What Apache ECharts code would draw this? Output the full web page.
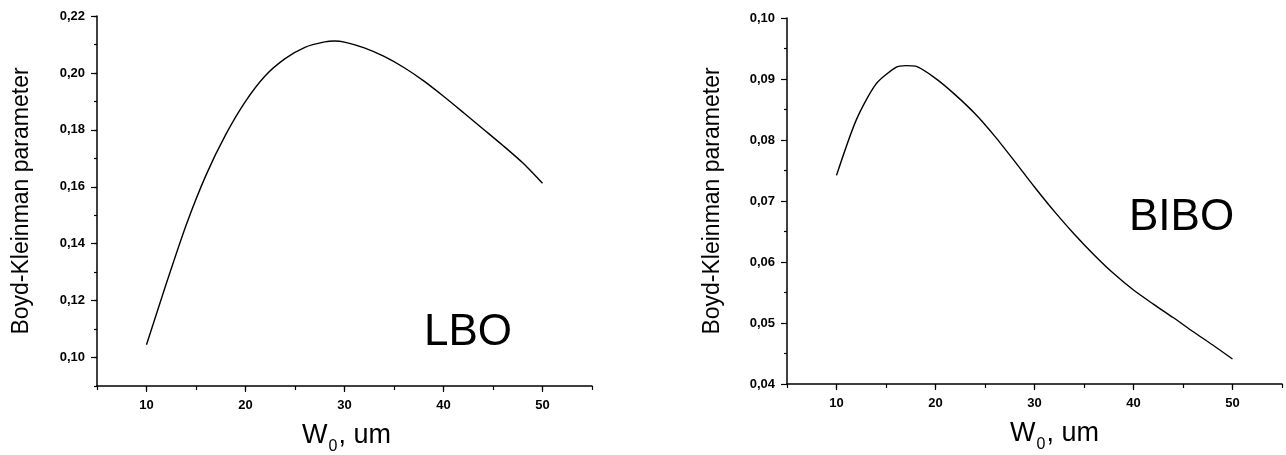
<!DOCTYPE html>
<html>
<head>
<meta charset="utf-8">
<script src="https://cdn.jsdelivr.net/npm/echarts@6/dist/echarts.min.js"></script>
<style>
  html, body { margin: 0; padding: 0; background: #ffffff; }
  #chart { width: 1286px; height: 455px; }
</style>
</head>
<body>
<div id="chart"></div>
<script>
// ---------- data ----------
const lboW0 = [10, 12, 14, 16, 18, 20, 22, 24, 26, 28, 29, 30, 32, 34, 36, 38, 40, 42, 44, 46, 48, 50];
const lboBK = [0.1045, 0.1260, 0.1465, 0.1640, 0.1783, 0.1900, 0.1990, 0.2050, 0.2090, 0.2109, 0.2112, 0.2108, 0.2088, 0.2058, 0.2019, 0.1972, 0.1918, 0.1861, 0.1803, 0.1745, 0.1684, 0.1612];

const biboW0 = [10, 12, 14, 16, 17, 18, 20, 22, 24, 26, 28, 30, 32, 34, 36, 38, 40, 42, 44, 46, 48, 50];
const biboBK = [0.0742, 0.0833, 0.0892, 0.0919, 0.0922, 0.0921, 0.0901, 0.0874, 0.0843, 0.0806, 0.0765, 0.0723, 0.0683, 0.0646, 0.0612, 0.0581, 0.0554, 0.0531, 0.0509, 0.0486, 0.0464, 0.0441];

const xMajorTicks = [10, 20, 30, 40, 50];
const lboYLabels = [0.10, 0.12, 0.14, 0.16, 0.18, 0.20, 0.22];
const biboYLabels = [0.04, 0.05, 0.06, 0.07, 0.08, 0.09, 0.10];

const yTitle = 'Boyd-Kleinman parameter';
const xTitle = '{w|W}{s|0}{w|, um}';
const panelTags = ['LBO', 'BIBO'];

// ---------- styles ----------
const FONT = "'Liberation Sans', Arial, sans-serif";
const BLACK = '#000000';
const tickLabelStyle = { color: BLACK, fontFamily: FONT, fontWeight: 'bold', fontSize: 13 };
const comma = v => v.toFixed(2).replace('.', ',');

function xAxes(gridIndex, padLeft) {
  return [
    {
      type: 'value', gridIndex, position: 'bottom', min: 5, max: 55, interval: 5,
      axisLine: { show: true, lineStyle: { color: BLACK, width: 1.5 } },
      axisTick: { show: true, length: 4, lineStyle: { color: BLACK, width: 1.2 } },
      axisLabel: { show: true, customValues: xMajorTicks, margin: 13, ...tickLabelStyle },
      splitLine: { show: false },
      name: xTitle, nameLocation: 'middle', nameGap: 34,
      nameTextStyle: {
        padding: [0, 0, 0, padLeft],
        rich: {
          w: { fontFamily: FONT, fontSize: 27, color: BLACK, lineHeight: 30 },
          s: { fontFamily: FONT, fontSize: 16, color: BLACK, lineHeight: 30, padding: [22, 1, 0, 1] }
        }
      }
    },
    {
      type: 'value', gridIndex, position: 'bottom', min: 5, max: 55, interval: 5,
      axisLine: { show: false },
      axisTick: { show: true, customValues: xMajorTicks, length: 6, lineStyle: { color: BLACK, width: 1.2 } },
      axisLabel: { show: false },
      splitLine: { show: false }
    }
  ];
}

const option = {
  backgroundColor: '#ffffff',
  animation: false,
  grid: [
    { left: 97, right: 694, top: 16, bottom: 69, containLabel: false, outerBoundsMode: 'none' },
    { left: 787, right: 4, top: 18, bottom: 71, containLabel: false, outerBoundsMode: 'none' }
  ],
  xAxis: [...xAxes(0, 4), ...xAxes(1, 40)],
  yAxis: [
    {
      type: 'value', gridIndex: 0, position: 'left', min: 0.09, max: 0.22, interval: 0.01,
      axisLine: { show: true, lineStyle: { color: BLACK, width: 1.5 } },
      axisTick: { show: true, length: 3, lineStyle: { color: BLACK, width: 1.2 } },
      axisLabel: { show: true, customValues: lboYLabels, margin: 12, formatter: comma, ...tickLabelStyle },
      splitLine: { show: false },
      name: yTitle, nameLocation: 'middle', nameGap: 64, nameRotate: 90,
      nameTextStyle: { fontFamily: FONT, fontSize: 23, color: BLACK }
    },
    {
      type: 'value', gridIndex: 0, position: 'left', min: 0.09, max: 0.22, interval: 0.01,
      axisLine: { show: false },
      axisTick: { show: true, customValues: lboYLabels, length: 6, lineStyle: { color: BLACK, width: 1.2 } },
      axisLabel: { show: false },
      splitLine: { show: false }
    },
    {
      type: 'value', gridIndex: 1, position: 'left', min: 0.04, max: 0.10, interval: 0.01,
      axisLine: { show: true, lineStyle: { color: BLACK, width: 1.5 } },
      axisTick: { show: true, length: 6, lineStyle: { color: BLACK, width: 1.2 } },
      minorTick: { show: true, splitNumber: 2, length: 3, lineStyle: { color: BLACK, width: 1.2 } },
      axisLabel: { show: true, customValues: biboYLabels, margin: 12, formatter: comma, ...tickLabelStyle },
      splitLine: { show: false },
      minorSplitLine: { show: false },
      name: yTitle, nameLocation: 'middle', nameGap: 63, nameRotate: 90,
      nameTextStyle: { fontFamily: FONT, fontSize: 23, color: BLACK }
    }
  ],
  series: [
    {
      type: 'line', xAxisIndex: 0, yAxisIndex: 0, smooth: 0.25, showSymbol: false,
      lineStyle: { color: BLACK, width: 1.4 },
      data: lboW0.map((x, i) => [x, lboBK[i]])
    },
    {
      type: 'line', xAxisIndex: 2, yAxisIndex: 2, smooth: 0.25, showSymbol: false,
      lineStyle: { color: BLACK, width: 1.4 },
      data: biboW0.map((x, i) => [x, biboBK[i]])
    }
  ],
  graphic: [
    { type: 'text', left: 424, top: 311, style: { text: panelTags[0], fontFamily: FONT, fontSize: 44, fill: BLACK } },
    { type: 'text', left: 1129, top: 196, style: { text: panelTags[1], fontFamily: FONT, fontSize: 44, fill: BLACK } }
  ]
};

const chart = echarts.init(document.getElementById('chart'), null, { renderer: 'canvas' });
chart.setOption(option);
</script>
</body>
</html>
